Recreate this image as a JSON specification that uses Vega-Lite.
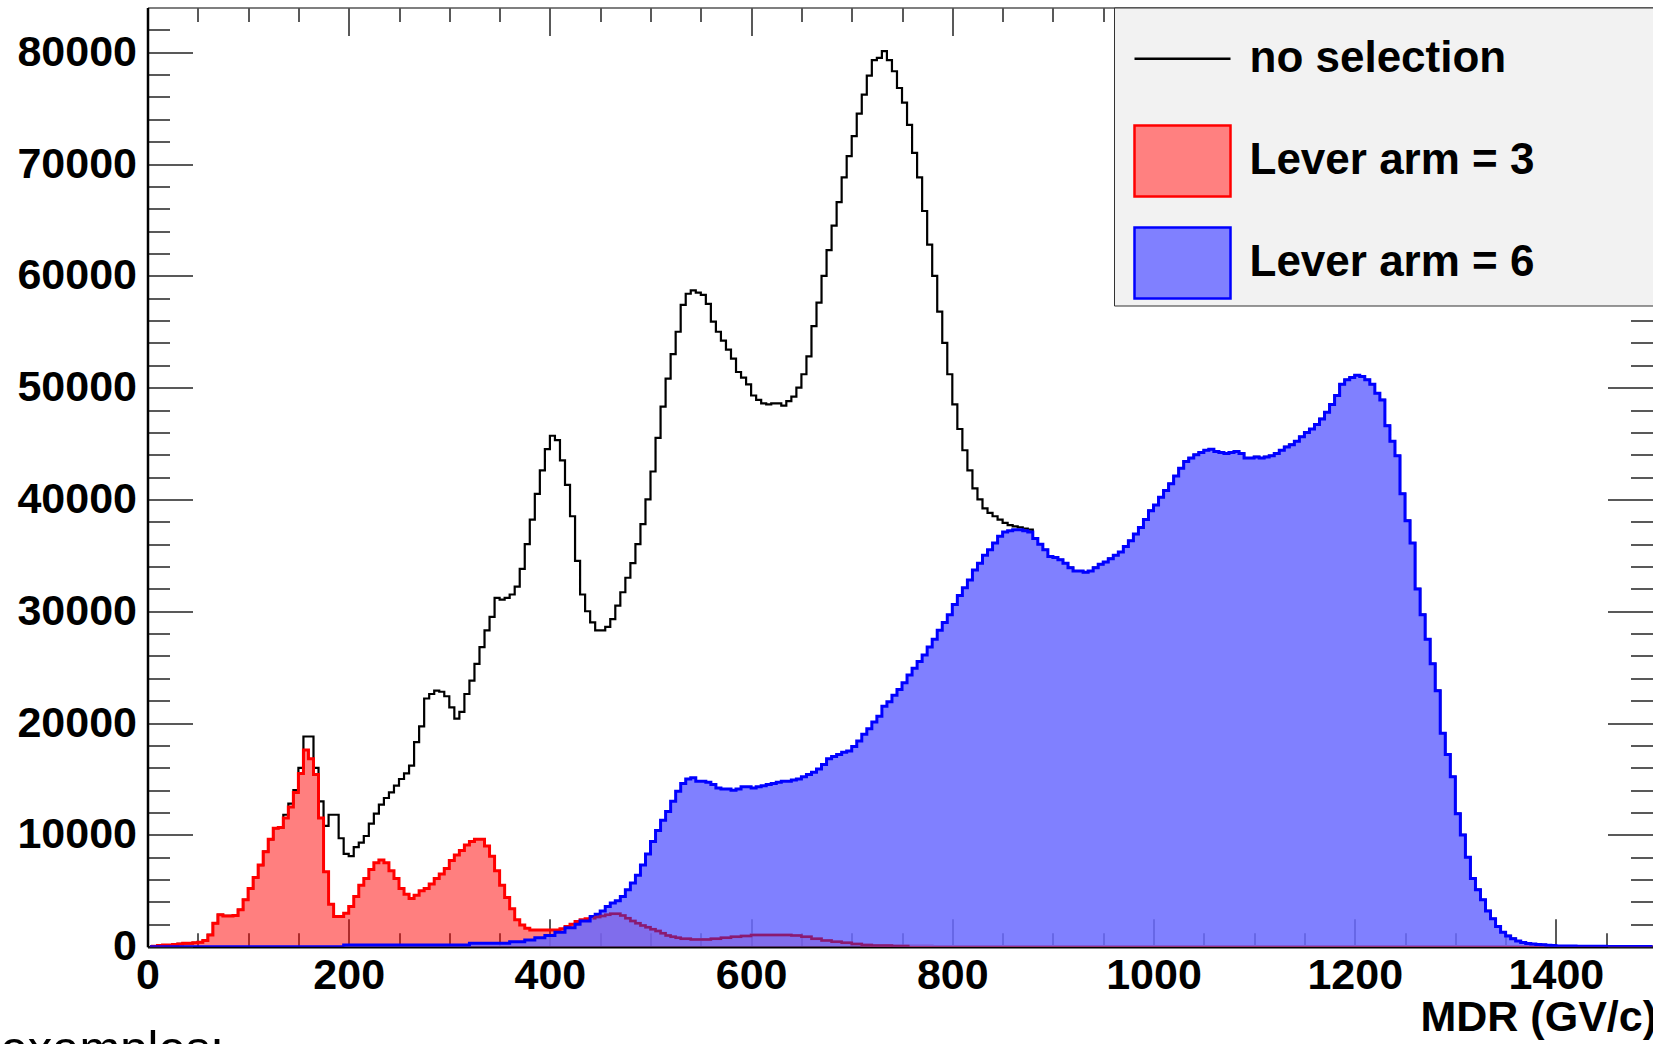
{
"$schema": "https://vega.github.io/schema/vega-lite/v6.json",
"width": 1505,
"height": 939.2,
"autosize": {"type": "none"},
"padding": {"left": 147.5, "top": 7.5, "right": 0, "bottom": 97.3},
"background": "white",
"config": {"view": {"stroke": null}, "font": "Liberation Sans"},
"title": {"text": "examples:", "orient": "bottom", "anchor": "start", "frame": "group", "font": "Liberation Sans", "fontSize": 49, "fontWeight": "normal", "color": "black", "baseline": "top", "offset": -14, "dx": -147},
"data": {"values": [
{"x":2.5,"a":0,"r":0,"b":0},{"x":7.5,"a":50,"r":50,"b":0},{"x":12.5,"a":100,"r":100,"b":0},{"x":17.5,"a":150,"r":150,"b":0},{"x":22.5,"a":150,"r":150,"b":0},
{"x":27.5,"a":200,"r":200,"b":0},{"x":32.5,"a":250,"r":250,"b":0},{"x":37.5,"a":300,"r":300,"b":0},{"x":42.5,"a":300,"r":300,"b":0},{"x":47.5,"a":350,"r":350,"b":0},
{"x":52.5,"a":400,"r":400,"b":0},{"x":57.5,"a":550,"r":550,"b":0},{"x":62.5,"a":1050,"r":1050,"b":0},{"x":67.5,"a":2100,"r":2100,"b":0},{"x":72.5,"a":2850,"r":2850,"b":0},
{"x":77.5,"a":2750,"r":2750,"b":0},{"x":82.5,"a":2750,"r":2750,"b":0},{"x":87.5,"a":2800,"r":2800,"b":0},{"x":92.5,"a":3300,"r":3300,"b":0},{"x":97.5,"a":4200,"r":4200,"b":0},
{"x":102.5,"a":5200,"r":5200,"b":0},{"x":107.5,"a":6200,"r":6200,"b":0},{"x":112.5,"a":7300,"r":7300,"b":0},{"x":117.5,"a":8500,"r":8500,"b":0},{"x":122.5,"a":9600,"r":9600,"b":0},
{"x":127.5,"a":10600,"r":10600,"b":0},{"x":132.5,"a":10650,"r":10650,"b":0},{"x":137.5,"a":11800,"r":11500,"b":0},{"x":142.5,"a":12800,"r":12500,"b":0},{"x":147.5,"a":14000,"r":13800,"b":0},
{"x":152.5,"a":16000,"r":15500,"b":0},{"x":157.5,"a":18800,"r":17600,"b":0},{"x":162.5,"a":18800,"r":16800,"b":0},{"x":167.5,"a":16000,"r":15400,"b":0},{"x":172.5,"a":13000,"r":11500,"b":0},
{"x":177.5,"a":10800,"r":6700,"b":0},{"x":182.5,"a":11800,"r":3800,"b":0},{"x":187.5,"a":11800,"r":2700,"b":0},{"x":192.5,"a":9700,"r":2700,"b":0},{"x":197.5,"a":8300,"r":3000,"b":150},
{"x":202.5,"a":8100,"r":3600,"b":150},{"x":207.5,"a":8900,"r":4500,"b":150},{"x":212.5,"a":9300,"r":5500,"b":150},{"x":217.5,"a":9900,"r":6100,"b":150},{"x":222.5,"a":11000,"r":6900,"b":150},
{"x":227.5,"a":11900,"r":7500,"b":150},{"x":232.5,"a":12700,"r":7750,"b":150},{"x":237.5,"a":13300,"r":7500,"b":150},{"x":242.5,"a":13800,"r":6800,"b":150},{"x":247.5,"a":14400,"r":6100,"b":150},
{"x":252.5,"a":15000,"r":5200,"b":150},{"x":257.5,"a":15500,"r":4700,"b":150},{"x":262.5,"a":16200,"r":4300,"b":150},{"x":267.5,"a":18300,"r":4600,"b":150},{"x":272.5,"a":19700,"r":5000,"b":150},
{"x":277.5,"a":22200,"r":5200,"b":150},{"x":282.5,"a":22600,"r":5600,"b":150},{"x":287.5,"a":22900,"r":6100,"b":150},{"x":292.5,"a":22800,"r":6500,"b":150},{"x":297.5,"a":22400,"r":7000,"b":150},
{"x":302.5,"a":21400,"r":7700,"b":150},{"x":307.5,"a":20400,"r":8200,"b":150},{"x":312.5,"a":21000,"r":8600,"b":150},{"x":317.5,"a":22600,"r":9100,"b":150},{"x":322.5,"a":23800,"r":9400,"b":300},
{"x":327.5,"a":25300,"r":9600,"b":300},{"x":332.5,"a":26800,"r":9600,"b":300},{"x":337.5,"a":28300,"r":9000,"b":300},{"x":342.5,"a":29500,"r":8100,"b":300},{"x":347.5,"a":31200,"r":6800,"b":300},
{"x":352.5,"a":31050,"r":5500,"b":300},{"x":357.5,"a":31200,"r":4400,"b":300},{"x":362.5,"a":31500,"r":3400,"b":450},{"x":367.5,"a":32200,"r":2400,"b":450},{"x":372.5,"a":33800,"r":1950,"b":450},
{"x":377.5,"a":36000,"r":1650,"b":600},{"x":382.5,"a":38200,"r":1500,"b":600},{"x":387.5,"a":40500,"r":1500,"b":800},{"x":392.5,"a":42600,"r":1500,"b":800},{"x":397.5,"a":44500,"r":1500,"b":1000},
{"x":402.5,"a":45700,"r":1500,"b":1000},{"x":407.5,"a":45300,"r":1500,"b":1300},{"x":412.5,"a":43500,"r":1600,"b":1300},{"x":417.5,"a":41300,"r":1800,"b":1700},{"x":422.5,"a":38500,"r":2000,"b":1700},
{"x":427.5,"a":34500,"r":2250,"b":2000},{"x":432.5,"a":31500,"r":2400,"b":2300},{"x":437.5,"a":30000,"r":2500,"b":2300},{"x":442.5,"a":29000,"r":2550,"b":2700},{"x":447.5,"a":28300,"r":2650,"b":2900},
{"x":452.5,"a":28300,"r":2750,"b":3200},{"x":457.5,"a":28600,"r":2850,"b":3600},{"x":462.5,"a":29300,"r":2950,"b":3900},{"x":467.5,"a":30500,"r":2950,"b":4100},{"x":472.5,"a":31700,"r":2800,"b":4500},
{"x":477.5,"a":33000,"r":2550,"b":5100},{"x":482.5,"a":34300,"r":2300,"b":5700},{"x":487.5,"a":36000,"r":2100,"b":6400},{"x":492.5,"a":37800,"r":1900,"b":7300},{"x":497.5,"a":40000,"r":1750,"b":8300},
{"x":502.5,"a":42500,"r":1550,"b":9400},{"x":507.5,"a":45500,"r":1400,"b":10400},{"x":512.5,"a":48300,"r":1200,"b":11300},{"x":517.5,"a":50800,"r":1000,"b":12100},{"x":522.5,"a":53000,"r":900,"b":13000},
{"x":527.5,"a":55000,"r":800,"b":13900},{"x":532.5,"a":57400,"r":700,"b":14600},{"x":537.5,"a":58400,"r":700,"b":15000},{"x":542.5,"a":58700,"r":650,"b":15100},{"x":547.5,"a":58500,"r":650,"b":14800},
{"x":552.5,"a":58300,"r":650,"b":14800},{"x":557.5,"a":57500,"r":650,"b":14700},{"x":562.5,"a":55900,"r":700,"b":14500},{"x":567.5,"a":55000,"r":700,"b":14200},{"x":572.5,"a":54200,"r":800,"b":14100},
{"x":577.5,"a":53400,"r":800,"b":14100},{"x":582.5,"a":52600,"r":900,"b":14000},{"x":587.5,"a":51400,"r":900,"b":14100},{"x":592.5,"a":50900,"r":950,"b":14300},{"x":597.5,"a":50300,"r":950,"b":14300},
{"x":602.5,"a":49300,"r":1050,"b":14200},{"x":607.5,"a":48900,"r":1050,"b":14300},{"x":612.5,"a":48600,"r":1050,"b":14400},{"x":617.5,"a":48500,"r":1050,"b":14500},{"x":622.5,"a":48600,"r":1050,"b":14600},
{"x":627.5,"a":48600,"r":1050,"b":14700},{"x":632.5,"a":48400,"r":1050,"b":14800},{"x":637.5,"a":48800,"r":1050,"b":14800},{"x":642.5,"a":49200,"r":1000,"b":14900},{"x":647.5,"a":50000,"r":1000,"b":15000},
{"x":652.5,"a":51200,"r":900,"b":15200},{"x":657.5,"a":52800,"r":900,"b":15400},{"x":662.5,"a":55500,"r":700,"b":15600},{"x":667.5,"a":57600,"r":700,"b":15900},{"x":672.5,"a":60000,"r":550,"b":16300},
{"x":677.5,"a":62300,"r":550,"b":16800},{"x":682.5,"a":64500,"r":450,"b":17000},{"x":687.5,"a":66600,"r":450,"b":17200},{"x":692.5,"a":68800,"r":350,"b":17400},{"x":697.5,"a":70700,"r":350,"b":17500},
{"x":702.5,"a":72500,"r":250,"b":17900},{"x":707.5,"a":74500,"r":250,"b":18400},{"x":712.5,"a":76200,"r":150,"b":19000},{"x":717.5,"a":77900,"r":150,"b":19500},{"x":722.5,"a":79300,"r":100,"b":20100},
{"x":727.5,"a":79500,"r":100,"b":20600},{"x":732.5,"a":80100,"r":100,"b":21500},{"x":737.5,"a":79300,"r":100,"b":21900},{"x":742.5,"a":78300,"r":60,"b":22500},{"x":747.5,"a":76800,"r":60,"b":23000},
{"x":752.5,"a":75500,"r":60,"b":23600},{"x":757.5,"a":73500,"r":60,"b":24300},{"x":762.5,"a":71000,"r":60,"b":24900},{"x":767.5,"a":68800,"r":60,"b":25500},{"x":772.5,"a":65800,"r":60,"b":26100},
{"x":777.5,"a":62800,"r":60,"b":26800},{"x":782.5,"a":60000,"r":20,"b":27500},{"x":787.5,"a":56800,"r":20,"b":28300},{"x":792.5,"a":54000,"r":20,"b":29000},{"x":797.5,"a":51200,"r":20,"b":29700},
{"x":802.5,"a":48500,"r":20,"b":30600},{"x":807.5,"a":46300,"r":20,"b":31400},{"x":812.5,"a":44400,"r":20,"b":32100},{"x":817.5,"a":42600,"r":20,"b":32800},{"x":822.5,"a":41000,"r":20,"b":33700},
{"x":827.5,"a":40000,"r":20,"b":34300},{"x":832.5,"a":39200,"r":20,"b":35000},{"x":837.5,"a":38800,"r":20,"b":35500},{"x":842.5,"a":38500,"r":20,"b":36100},{"x":847.5,"a":38200,"r":20,"b":36700},
{"x":852.5,"a":37900,"r":20,"b":37100},{"x":857.5,"a":37700,"r":20,"b":37200},{"x":862.5,"a":37600,"r":20,"b":37300},{"x":867.5,"a":37500,"r":20,"b":37300},{"x":872.5,"a":37400,"r":20,"b":37200},
{"x":877.5,"a":37300,"r":20,"b":37100},{"x":882.5,"a":36500,"r":20,"b":36500},{"x":887.5,"a":36000,"r":20,"b":36000},{"x":892.5,"a":35500,"r":20,"b":35500},{"x":897.5,"a":34900,"r":20,"b":34900},
{"x":902.5,"a":34800,"r":20,"b":34800},{"x":907.5,"a":34600,"r":20,"b":34600},{"x":912.5,"a":34300,"r":20,"b":34300},{"x":917.5,"a":33900,"r":20,"b":33900},{"x":922.5,"a":33600,"r":20,"b":33600},
{"x":927.5,"a":33600,"r":20,"b":33600},{"x":932.5,"a":33500,"r":20,"b":33500},{"x":937.5,"a":33600,"r":20,"b":33600},{"x":942.5,"a":33900,"r":20,"b":33900},{"x":947.5,"a":34200,"r":20,"b":34200},
{"x":952.5,"a":34400,"r":20,"b":34400},{"x":957.5,"a":34700,"r":20,"b":34700},{"x":962.5,"a":35000,"r":20,"b":35000},{"x":967.5,"a":35300,"r":20,"b":35300},{"x":972.5,"a":35800,"r":20,"b":35800},
{"x":977.5,"a":36300,"r":20,"b":36300},{"x":982.5,"a":36900,"r":20,"b":36900},{"x":987.5,"a":37500,"r":20,"b":37500},{"x":992.5,"a":38200,"r":20,"b":38200},{"x":997.5,"a":39000,"r":20,"b":39000},
{"x":1002.5,"a":39500,"r":20,"b":39500},{"x":1007.5,"a":40200,"r":20,"b":40200},{"x":1012.5,"a":40800,"r":20,"b":40800},{"x":1017.5,"a":41400,"r":20,"b":41400},{"x":1022.5,"a":42100,"r":20,"b":42100},
{"x":1027.5,"a":42800,"r":20,"b":42800},{"x":1032.5,"a":43400,"r":20,"b":43400},{"x":1037.5,"a":43700,"r":20,"b":43700},{"x":1042.5,"a":44000,"r":20,"b":44000},{"x":1047.5,"a":44200,"r":20,"b":44200},
{"x":1052.5,"a":44400,"r":20,"b":44400},{"x":1057.5,"a":44500,"r":20,"b":44500},{"x":1062.5,"a":44300,"r":20,"b":44300},{"x":1067.5,"a":44200,"r":20,"b":44200},{"x":1072.5,"a":44100,"r":20,"b":44100},
{"x":1077.5,"a":44200,"r":20,"b":44200},{"x":1082.5,"a":44300,"r":20,"b":44300},{"x":1087.5,"a":44100,"r":20,"b":44100},{"x":1092.5,"a":43700,"r":20,"b":43700},{"x":1097.5,"a":43700,"r":20,"b":43700},
{"x":1102.5,"a":43800,"r":20,"b":43800},{"x":1107.5,"a":43700,"r":20,"b":43700},{"x":1112.5,"a":43800,"r":20,"b":43800},{"x":1117.5,"a":43900,"r":20,"b":43900},{"x":1122.5,"a":44100,"r":20,"b":44100},
{"x":1127.5,"a":44400,"r":20,"b":44400},{"x":1132.5,"a":44700,"r":20,"b":44700},{"x":1137.5,"a":44900,"r":20,"b":44900},{"x":1142.5,"a":45200,"r":20,"b":45200},{"x":1147.5,"a":45600,"r":20,"b":45600},
{"x":1152.5,"a":46000,"r":20,"b":46000},{"x":1157.5,"a":46300,"r":20,"b":46300},{"x":1162.5,"a":46700,"r":20,"b":46700},{"x":1167.5,"a":47200,"r":20,"b":47200},{"x":1172.5,"a":47800,"r":20,"b":47800},
{"x":1177.5,"a":48500,"r":20,"b":48500},{"x":1182.5,"a":49300,"r":20,"b":49300},{"x":1187.5,"a":50300,"r":20,"b":50300},{"x":1192.5,"a":50700,"r":20,"b":50700},{"x":1197.5,"a":50900,"r":20,"b":50900},
{"x":1202.5,"a":51100,"r":20,"b":51100},{"x":1207.5,"a":51000,"r":20,"b":51000},{"x":1212.5,"a":50700,"r":20,"b":50700},{"x":1217.5,"a":50300,"r":20,"b":50300},{"x":1222.5,"a":49500,"r":20,"b":49500},
{"x":1227.5,"a":48900,"r":20,"b":48900},{"x":1232.5,"a":46600,"r":20,"b":46600},{"x":1237.5,"a":45200,"r":20,"b":45200},{"x":1242.5,"a":43900,"r":20,"b":43900},{"x":1247.5,"a":40500,"r":20,"b":40500},
{"x":1252.5,"a":38100,"r":20,"b":38100},{"x":1257.5,"a":36100,"r":20,"b":36100},{"x":1262.5,"a":32000,"r":20,"b":32000},{"x":1267.5,"a":29700,"r":20,"b":29700},{"x":1272.5,"a":27500,"r":20,"b":27500},
{"x":1277.5,"a":25300,"r":20,"b":25300},{"x":1282.5,"a":22900,"r":20,"b":22900},{"x":1287.5,"a":19100,"r":20,"b":19100},{"x":1292.5,"a":17200,"r":20,"b":17200},{"x":1297.5,"a":15200,"r":20,"b":15200},
{"x":1302.5,"a":11900,"r":20,"b":11900},{"x":1307.5,"a":10000,"r":20,"b":10000},{"x":1312.5,"a":8000,"r":20,"b":8000},{"x":1317.5,"a":6100,"r":20,"b":6100},{"x":1322.5,"a":5100,"r":20,"b":5100},
{"x":1327.5,"a":4200,"r":20,"b":4200},{"x":1332.5,"a":3200,"r":20,"b":3200},{"x":1337.5,"a":2500,"r":20,"b":2500},{"x":1342.5,"a":1800,"r":20,"b":1800},{"x":1347.5,"a":1300,"r":20,"b":1300},
{"x":1352.5,"a":960,"r":20,"b":960},{"x":1357.5,"a":720,"r":20,"b":720},{"x":1362.5,"a":510,"r":20,"b":510},{"x":1367.5,"a":380,"r":20,"b":380},{"x":1372.5,"a":280,"r":20,"b":280},
{"x":1377.5,"a":240,"r":20,"b":240},{"x":1382.5,"a":200,"r":20,"b":200},{"x":1387.5,"a":170,"r":20,"b":170},{"x":1392.5,"a":130,"r":20,"b":130},{"x":1397.5,"a":100,"r":20,"b":100},
{"x":1402.5,"a":60,"r":20,"b":60},{"x":1407.5,"a":60,"r":20,"b":60},{"x":1412.5,"a":60,"r":0,"b":60},{"x":1417.5,"a":60,"r":0,"b":60},{"x":1422.5,"a":30,"r":0,"b":30},
{"x":1427.5,"a":30,"r":0,"b":30},{"x":1432.5,"a":30,"r":0,"b":30},{"x":1437.5,"a":30,"r":0,"b":30},{"x":1442.5,"a":30,"r":0,"b":30},{"x":1447.5,"a":30,"r":0,"b":30},
{"x":1452.5,"a":10,"r":0,"b":10},{"x":1457.5,"a":10,"r":0,"b":10},{"x":1462.5,"a":10,"r":0,"b":10},{"x":1467.5,"a":10,"r":0,"b":10},{"x":1472.5,"a":10,"r":0,"b":10},
{"x":1477.5,"a":10,"r":0,"b":10},{"x":1482.5,"a":10,"r":0,"b":10},{"x":1487.5,"a":10,"r":0,"b":10},{"x":1492.5,"a":10,"r":0,"b":10},{"x":1497.5,"a":10,"r":0,"b":10}
]},
"layer": [
{
"mark": {"type": "line", "interpolate": "step", "color": "black", "strokeWidth": 2.2, "clip": true},
"encoding": {
"x": {"field": "x", "type": "quantitative", "scale": {"domain": [0, 1496], "nice": false, "zero": false},
"axis": {"orient": "bottom", "values": [0,50,100,150,200,250,300,350,400,450,500,550,600,650,700,750,800,850,900,950,1000,1050,1100,1150,1200,1250,1300,1350,1400,1450],
"labelExpr": "datum.value % 200 === 0 ? datum.label : ''", "format": "d",
"tickSize": {"condition": {"test": "datum.value % 200 === 0", "value": -28}, "value": -14},
"tickColor": "#222", "tickWidth": 1.5, "domainColor": "black", "domainWidth": 2.5, "grid": false,
"labelFont": "Liberation Sans", "labelFontWeight": "bold", "labelFontSize": 43, "labelColor": "black", "labelPadding": 36, "labelFlush": false, "labelOverlap": false,
"title": "MDR (GV/c)", "titleFont": "Liberation Sans", "titleFontWeight": "bold", "titleFontSize": 43, "titleColor": "black", "titleAlign": "right", "titleAnchor": "end", "titleBaseline": "alphabetic", "titleX": 1509, "titleY": 84}},
"y": {"field": "a", "type": "quantitative", "stack": null, "scale": {"domain": [0, 84000], "nice": false},
"axis": {"orient": "left", "values": [0,2000,4000,6000,8000,10000,12000,14000,16000,18000,20000,22000,24000,26000,28000,30000,32000,34000,36000,38000,40000,42000,44000,46000,48000,50000,52000,54000,56000,58000,60000,62000,64000,66000,68000,70000,72000,74000,76000,78000,80000,82000],
"format": "d", "labelExpr": "datum.value % 10000 === 0 ? datum.label : ''",
"tickSize": {"condition": {"test": "datum.value % 10000 === 0", "value": -45}, "value": -22},
"tickColor": "#222", "tickWidth": 1.5, "domainColor": "black", "domainWidth": 2.5, "grid": false,
"labelFont": "Liberation Sans", "labelFontWeight": "bold", "labelFontSize": 43, "labelColor": "black", "labelPadding": 56, "labelOverlap": false, "title": null}}
}
},
{
"mark": {"type": "area", "interpolate": "step", "color": "red", "fillOpacity": 0.5, "line": {"color": "red", "strokeWidth": 3}, "clip": true},
"encoding": {
"x": {"field": "x", "type": "quantitative",
"axis": {"orient": "top", "values": [0,50,100,150,200,250,300,350,400,450,500,550,600,650,700,750,800,850,900,950,1000,1050,1100,1150,1200,1250,1300,1350,1400,1450],
"tickSize": {"condition": {"test": "datum.value % 200 === 0", "value": -28}, "value": -14},
"tickColor": "#222", "tickWidth": 1.5, "domainColor": "#555", "domainWidth": 1.5, "grid": false, "labels": false, "title": null}},
"y": {"field": "r", "type": "quantitative", "stack": null,
"axis": {"orient": "right", "values": [0,2000,4000,6000,8000,10000,12000,14000,16000,18000,20000,22000,24000,26000,28000,30000,32000,34000,36000,38000,40000,42000,44000,46000,48000,50000,52000,54000,56000,58000,60000,62000,64000,66000,68000,70000,72000,74000,76000,78000,80000,82000],
"tickSize": {"condition": {"test": "datum.value % 10000 === 0", "value": -45}, "value": -22},
"tickColor": "#222", "tickWidth": 1.5, "domain": false, "grid": false, "labels": false, "title": null}}
}
},
{
"mark": {"type": "area", "interpolate": "step", "fill": "#6a6aff", "fillOpacity": 0.85, "line": {"color": "blue", "strokeWidth": 3}, "clip": true},
"encoding": {
"x": {"field": "x", "type": "quantitative", "axis": null},
"y": {"field": "b", "type": "quantitative", "stack": null, "axis": null}
}
},
{
"transform": [{"filter": "datum.x >= 440 && datum.x <= 760"}],
"mark": {"type": "line", "interpolate": "step", "color": "#8a1a70", "strokeWidth": 2.5, "clip": true},
"encoding": {
"x": {"field": "x", "type": "quantitative", "axis": null},
"y": {"field": "r", "type": "quantitative", "stack": null, "axis": null}
}
},
{
"transform": [{"filter": "false"}],
"mark": {"type": "point", "opacity": 1, "filled": false},
"encoding": {
"x": {"field": "x", "type": "quantitative", "axis": null},
"y": {"field": "a", "type": "quantitative", "axis": null},
"fill": {"field": "s", "type": "nominal",
"scale": {"domain": ["no selection", "Lever arm = 3", "Lever arm = 6"], "range": ["transparent", "#ff8080", "#8080ff"]},
"legend": {"orient": "none", "legendX": 966.5, "legendY": 0, "title": " ", "titleOrient": "right", "titlePadding": 200, "titleFontSize": 10,
"fillColor": "#f2f2f2", "strokeColor": "#333", "padding": 1.8,
"symbolSize": 9216, "symbolOffset": 17.2, "symbolStrokeWidth": 2.5, "symbolOpacity": 1,
"labelOffset": 17.5, "rowPadding": 11.15, "labelLimit": 800,
"labelFont": "Liberation Sans", "labelFontWeight": "bold", "labelFontSize": 44, "labelColor": "black"}},
"stroke": {"field": "s", "type": "nominal",
"scale": {"domain": ["no selection", "Lever arm = 3", "Lever arm = 6"], "range": ["black", "red", "blue"]},
"legend": {"orient": "none", "legendX": 966.5, "legendY": 0, "title": " ", "titleOrient": "right", "titlePadding": 200, "titleFontSize": 10,
"fillColor": "#f2f2f2", "strokeColor": "#333", "padding": 1.8,
"symbolSize": 9216, "symbolOffset": 17.2, "symbolStrokeWidth": 2.5, "symbolOpacity": 1,
"labelOffset": 17.5, "rowPadding": 11.15, "labelLimit": 800,
"labelFont": "Liberation Sans", "labelFontWeight": "bold", "labelFontSize": 44, "labelColor": "black"}},
"shape": {"field": "s", "type": "nominal",
"scale": {"domain": ["no selection", "Lever arm = 3", "Lever arm = 6"], "range": ["M-1,-0.74L-1,-0.74M-1,0H1M1,0.74L1,0.74", "M-1,-0.74H1V0.74H-1Z", "M-1,-0.74H1V0.74H-1Z"]},
"legend": {"orient": "none", "legendX": 966.5, "legendY": 0, "title": " ", "titleOrient": "right", "titlePadding": 200, "titleFontSize": 10,
"fillColor": "#f2f2f2", "strokeColor": "#333", "padding": 1.8,
"symbolSize": 9216, "symbolOffset": 17.2, "symbolStrokeWidth": 2.5, "symbolOpacity": 1,
"labelOffset": 17.5, "rowPadding": 11.15, "labelLimit": 800,
"labelFont": "Liberation Sans", "labelFontWeight": "bold", "labelFontSize": 44, "labelColor": "black"}}
}
}
],
"resolve": {"axis": {"x": "independent", "y": "independent"}}
}
